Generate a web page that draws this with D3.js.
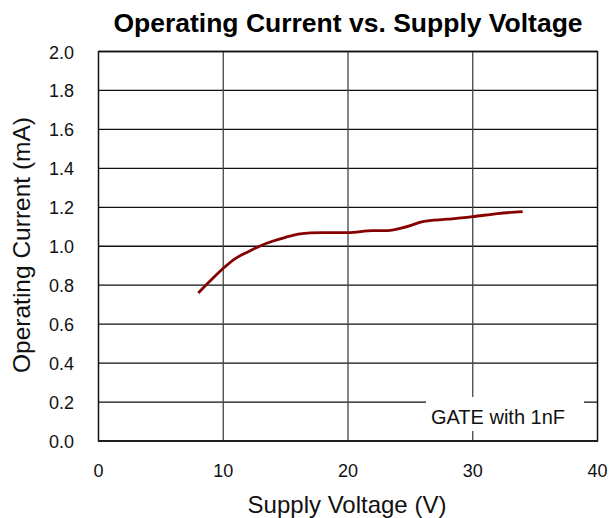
<!DOCTYPE html>
<html><head><meta charset="utf-8">
<script src="https://cdn.jsdelivr.net/npm/d3@7"></script>
<style>body{margin:0;background:#fff;} svg{display:block;} text{font-family:"Liberation Sans",Arial,sans-serif;}</style>
</head><body>
<svg id="c" width="612" height="518"></svg>
<script>
const title = "Operating Current vs. Supply Voltage";
const xLabel = "Supply Voltage (V)";
const yLabel = "Operating Current (mA)";
const annotation = "GATE with 1nF";
const xTicks = [0, 10, 20, 30, 40];
const yTicks = [0.0, 0.2, 0.4, 0.6, 0.8, 1.0, 1.2, 1.4, 1.6, 1.8, 2.0];
const voltage = [8, 9, 10, 11, 12, 13, 14, 15, 16, 17, 18, 20, 22, 23, 24, 25, 26, 28, 30, 32, 34];
const current = [0.76, 0.825, 0.887, 0.938, 0.972, 1.003, 1.027, 1.046, 1.062, 1.069, 1.07, 1.07, 1.08, 1.08, 1.089, 1.106, 1.127, 1.139, 1.152, 1.168, 1.178];

const svg = d3.select("#c");
const L = 98.5, R = 597.5, T = 51.5, B = 441;
const x = d3.scaleLinear().domain([0, 40]).range([L, R]);
const y = d3.scaleLinear().domain([0, 2]).range([B, T]);

// horizontal grid
svg.append("g").selectAll("line").data(yTicks).join("line")
  .attr("x1", L).attr("x2", R).attr("y1", d => y(d)).attr("y2", d => y(d))
  .attr("stroke", "#111").attr("stroke-width", 1.3);
// vertical grid
svg.append("g").selectAll("line").data(xTicks.slice(1, -1)).join("line")
  .attr("x1", d => x(d)).attr("x2", d => x(d)).attr("y1", T).attr("y2", B)
  .attr("stroke", "#444").attr("stroke-width", 1.3);
// frame
svg.append("rect").attr("x", L).attr("y", T).attr("width", R - L).attr("height", B - T)
  .attr("fill", "none").attr("stroke", "#111").attr("stroke-width", 1.5);

// annotation box
svg.append("rect").attr("x", 426).attr("y", 397).attr("width", 158).attr("height", 34).attr("fill", "#fff");
svg.append("text").attr("x", 498).attr("y", 424).attr("text-anchor", "middle")
  .attr("font-size", 20).attr("fill", "#111").text(annotation);

// axes labels
svg.append("g").selectAll("text").data(yTicks).join("text")
  .attr("x", 74).attr("y", d => y(d) + 7).attr("text-anchor", "end")
  .attr("font-size", 18).attr("fill", "#111").text(d => d.toFixed(1));
svg.append("g").selectAll("text").data(xTicks).join("text")
  .attr("x", d => x(d)).attr("y", 477).attr("text-anchor", "middle")
  .attr("font-size", 18).attr("fill", "#111").text(d => d);

// line
const line = d3.line().x((d, i) => x(voltage[i])).y(d => y(d)).curve(d3.curveMonotoneX);
svg.append("path").datum(current).attr("d", line).attr("fill", "none")
  .attr("stroke", "#850000").attr("stroke-width", 2.8);

// titles
svg.append("text").attr("x", 348).attr("y", 32).attr("text-anchor", "middle")
  .attr("font-size", 26.5).attr("font-weight", "bold").attr("fill", "#000").text(title);
svg.append("text").attr("x", 347).attr("y", 513).attr("text-anchor", "middle")
  .attr("font-size", 24).attr("fill", "#111").text(xLabel);
svg.append("text").attr("transform", "translate(30,245) rotate(-90)").attr("text-anchor", "middle")
  .attr("font-size", 24.5).attr("fill", "#111").text(yLabel);
</script>
</body></html>
